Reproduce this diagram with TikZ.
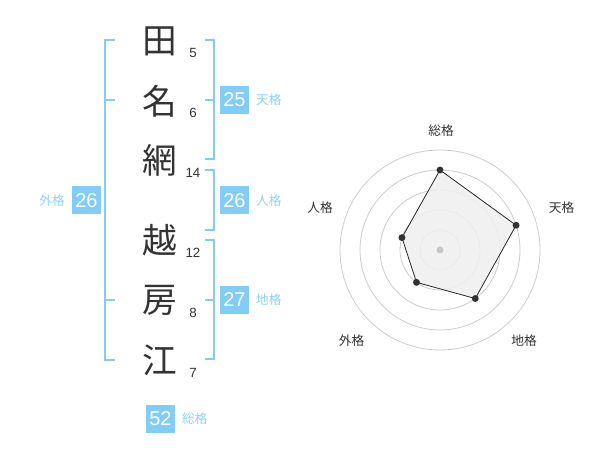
\documentclass[tikz,border=0pt]{standalone}
\usepackage{fontspec}
\setmainfont{Liberation Sans}
\newfontfamily\jp{Noto Sans CJK JP}
\usetikzlibrary{calc}
\definecolor{sky}{HTML}{81CDF8}
\definecolor{skytext}{HTML}{8ED1F7}
\definecolor{ink}{HTML}{333333}
\definecolor{ring}{HTML}{CCCCCC}
\definecolor{area}{HTML}{EFEFEF}
\begin{document}
\begin{tikzpicture}[x=0.75pt,y=0.75pt,
    kanji/.style={text=ink,inner sep=0pt,font=\jp\fontsize{26}{26}\selectfont},
    strokes/.style={text=ink,inner sep=0pt,font=\fontsize{10}{10}\selectfont},
    br/.style={draw=sky,line width=1.5pt},
    score/.style={fill=sky,text=white,inner sep=0pt,minimum width=21.75pt,minimum height=21pt,font=\fontsize{15}{15}\selectfont},
    kaku/.style={text=skytext,inner sep=0pt,font=\jp\fontsize{9.5}{9.5}\selectfont},
    axis/.style={text=ink,inner sep=0pt,font=\jp\fontsize{9.5}{9.5}\selectfont},
    dot/.style={circle,fill=ink,inner sep=0pt,minimum size=5.2pt}]
  \useasboundingbox (0,0) rectangle (600,470);
  % name
  \node [kanji] (c1) at (160,429) {田};
  \node [kanji] (c2) at (160,369) {名};
  \node [kanji] (c3) at (160,310) {網};
  \node [kanji] (c4) at (160,230) {越};
  \node [kanji] (c5) at (160,170) {房};
  \node [kanji] (c6) at (160,110) {江};
  \node [strokes] (n1) at (193,417) {5};
  \node [strokes] (n2) at (193,357) {6};
  \node [strokes] (n3) at (193,297) {14};
  \node [strokes] (n4) at (193,217) {12};
  \node [strokes] (n5) at (193,157) {8};
  \node [strokes] (n6) at (193,97) {7};
  % brackets
  \draw [br] (115,430) -- (105,430) -- (105,110) -- (115,110);
  \draw [br] (105,370) -- (115,370) (105,170) -- (115,170);
  \draw [br] (205,430) -- (214,430) -- (214,311) -- (205,311) (205,370) -- (214,370);
  \draw [br] (205,300) -- (214,300) -- (214,240) -- (205,240);
  \draw [br] (205,230) -- (214,230) -- (214,111) -- (205,111) (205,170) -- (214,170);
  % scores
  \node [score] (ten) at (234.5,370) {25};
  \node [kaku,right=5pt] (tenl) at (ten.east) {天格};
  \node [score] (jin) at (234.5,269.5) {26};
  \node [kaku,right=5pt] (jinl) at (jin.east) {人格};
  \node [score] (chi) at (234.5,170) {27};
  \node [kaku,right=5pt] (chil) at (chi.east) {地格};
  \node [score] (gai) at (86.5,269.5) {26};
  \node [kaku,left=5pt] (gail) at (gai.west) {外格};
  \node [score] (sou) at (160.5,51) {52};
  \node [kaku,right=5pt] (soul) at (sou.east) {総格};
  % radar
  \coordinate (r) at (440,220);
  \draw [ring,line width=0.6pt] (r) circle (20) circle (40) circle (60) circle (80) circle (100);
  \coordinate (p1) at ($(r)+(90:80)$);
  \coordinate (p2) at ($(r)+(18:80)$);
  \coordinate (p3) at ($(r)+(-54:60)$);
  \coordinate (p4) at ($(r)+(-126:40)$);
  \coordinate (p5) at ($(r)+(162:40)$);
  \filldraw [fill=area,fill opacity=0.85,draw=black!85,line width=0.6pt] (p1) -- (p2) -- (p3) -- (p4) -- (p5) -- cycle;
  \fill [black!22] (r) circle (3.5);
  \foreach \p in {p1,p2,p3,p4,p5} \node [dot] at (\p) {};
  \node [axis] (a1) at (441,339) {総格};
  \node [axis] (a2) at (561.5,262) {天格};
  \node [axis] (a3) at (524,129) {地格};
  \node [axis] (a4) at (351.5,129) {外格};
  \node [axis] (a5) at (320,262) {人格};
\end{tikzpicture}
\end{document}
